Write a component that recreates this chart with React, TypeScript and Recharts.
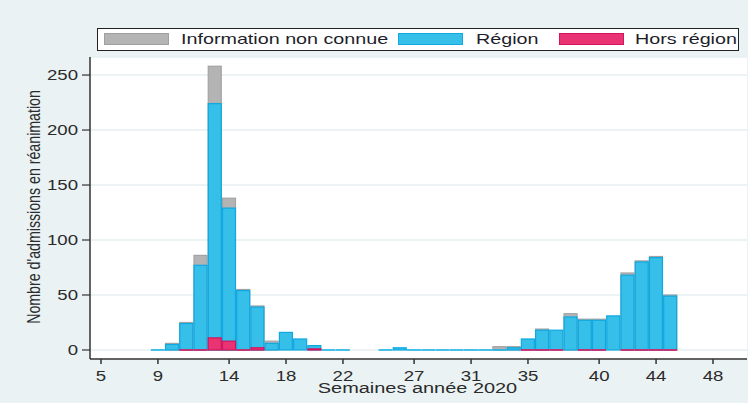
import React from 'react';
import { ComposedChart, Bar, XAxis, YAxis, CartesianGrid, Label } from 'recharts';

// Weeks of 2020
const weeks = [9, 10, 11, 12, 13, 14, 15, 16, 17, 18, 19, 20, 21, 22, 23, 24, 25, 26, 27, 28, 29, 30, 31, 32, 33, 34, 35, 36, 37, 38, 39, 40, 41, 42, 43, 44, 45];
// Hors région (null = not drawn)
const horsRegion: (number | null)[] = [null, null, 0, 0, 11, 8, 0, 2, null, null, null, 1, null, null, null, null, null, null, null, null, null, null, null, null, null, null, 0, 0, 0, null, 0, 0, null, 0, 0, 0, 0];
// Région
const region: (number | null)[] = [0, 5, 24, 77, 213, 121, 54, 37, 6, 16, 10, 3, 0, 0, null, null, 0, 2, 0, 0, 0, 0, 0, 0, 0, 2, 10, 18, 18, 30, 27, 27, 31, 68, 80, 84, 49];
// Information non connue
const infoNonConnue: (number | null)[] = [null, 1, 1, 9, 34, 9, 1, 1, 2, null, null, null, null, null, null, null, null, null, null, null, null, null, null, null, 3, 1, null, 1, null, 3, 1, 1, null, 2, 1, 1, 1];

const xTicks = [5, 9, 14, 18, 22, 27, 31, 35, 40, 44, 48];
const yTicks = [0, 50, 100, 150, 200, 250];

const legendItems = [
  { label: 'Information non connue', fill: '#b4b4b4', stroke: '#a0a0a0' },
  { label: 'Région', fill: '#35bfe9', stroke: '#13aae2' },
  { label: 'Hors région', fill: '#ea3372', stroke: '#d4145c' },
];

// Overlaid bars (as drawn by the original): total, région + hors, hors
const data = weeks.map((w, i) => {
  const h = horsRegion[i];
  const r = region[i];
  const u = infoNonConnue[i];
  const blue = r == null ? null : (h ?? 0) + r;
  const grey = u == null ? null : (h ?? 0) + (r ?? 0) + u;
  return { week: w, hors: h, blue, grey };
});

const X_DOMAIN: [number, number] = [4.227, 50.389];
const Y_DOMAIN: [number, number] = [-8.2, 266.4];
const SX = 1.33;
const FONT = '"Liberation Sans", Arial, sans-serif';

const makeShape = (key: string, fill: string, stroke: string, zeroStroke: string) => (props: any) => {
  const { x, y, width, height, payload } = props;
  const v = payload ? payload[key] : null;
  if (v == null || !isFinite(x) || !isFinite(y)) return <g />;
  if (v === 0 || !height || Math.abs(height) < 0.5) {
    return <line x1={x} x2={x + width} y1={y} y2={y} stroke={zeroStroke} strokeWidth={1.6} />;
  }
  return <rect x={x + 0.5} y={y} width={width - 1} height={height} fill={fill} stroke={stroke} strokeWidth={1.2} />;
};

const YTick = (props: any) => {
  const { x, y, payload } = props;
  return (
    <g transform={`translate(${x - 2},${y})`}>
      <text transform={`scale(${SX},1)`} textAnchor="end" dy="0.36em" fontSize={14} fontFamily={FONT} fill="#2b2b2b">
        {payload.value}
      </text>
    </g>
  );
};

const XTick = (props: any) => {
  const { x, y, payload } = props;
  return (
    <g transform={`translate(${x},${y})`}>
      <text transform={`scale(${SX},1)`} textAnchor="middle" dy={15} fontSize={14} fontFamily={FONT} fill="#2b2b2b">
        {payload.value}
      </text>
    </g>
  );
};

const XTitle = (props: any) => {
  const vb = props.viewBox || {};
  const cx = vb.x + vb.width / 2 - 1;
  const cy = vb.y + 34;
  return (
    <g transform={`translate(${cx},${cy})`}>
      <text transform={`scale(${SX},1)`} textAnchor="middle" fontSize={15} fontFamily={FONT} fill="#2b2b2b">
        Semaines année 2020
      </text>
    </g>
  );
};

const YTitle = (props: any) => {
  const vb = props.viewBox || {};
  const cx = vb.x + 3;
  const cy = vb.y + vb.height / 2 - 1;
  return (
    <g transform={`translate(${cx},${cy}) scale(${SX},1) rotate(-90)`}>
      <text textAnchor="middle" dy="0.36em" fontSize={14.2} fontFamily={FONT} fill="#2b2b2b">
        Nombre d'admissions en réanimation
      </text>
    </g>
  );
};

const legendPos = [
  { sw: 7, tx: 84 },
  { sw: 301, tx: 379 },
  { sw: 462, tx: 538 },
];

export default function App() {
  return (
    <div style={{ position: 'absolute', left: 0, top: 0, width: 748, height: 403, background: '#eaf2f3', overflow: 'hidden' }}>
      <ComposedChart
        width={748}
        height={403}
        data={data}
        margin={{ top: 57, right: 1, bottom: 14, left: 30 }}
        barCategoryGap={0}
        barGap={0}
      >
        <CartesianGrid vertical={false} fill="#ffffff" stroke="#e6eff1" strokeWidth={1.5} xAxisId="g" />
        <XAxis xAxisId="b" type="number" dataKey="week" domain={X_DOMAIN} allowDataOverflow hide orientation="top" height={0} />
        <XAxis xAxisId="r" type="number" dataKey="week" domain={X_DOMAIN} allowDataOverflow hide orientation="top" height={0} />
        <XAxis
          xAxisId="g"
          type="number"
          dataKey="week"
          domain={X_DOMAIN}
          allowDataOverflow
          ticks={xTicks}
          interval={0}
          tick={<XTick />}
          tickSize={5}
          axisLine={{ stroke: '#333', strokeWidth: 1.5 }}
          tickLine={{ stroke: '#333', strokeWidth: 1.5 }}
          height={30}
        >
          <Label content={<XTitle />} />
        </XAxis>
        <YAxis
          type="number"
          domain={Y_DOMAIN}
          allowDataOverflow
          ticks={yTicks}
          interval={0}
          tick={<YTick />}
          tickSize={8}
          width={60}
          axisLine={{ stroke: '#333', strokeWidth: 1.5 }}
          tickLine={{ stroke: '#333', strokeWidth: 1.2 }}
        >
          <Label content={<YTitle />} />
        </YAxis>
        <Bar xAxisId="g" dataKey="grey" isAnimationActive={false} shape={makeShape('grey', '#b4b4b4', '#a3a3a3', '#a3a3a3')} />
        <Bar xAxisId="b" dataKey="blue" isAnimationActive={false} shape={makeShape('blue', '#35bfe9', '#0fa8e0', '#1ab4e8')} />
        <Bar xAxisId="r" dataKey="hors" isAnimationActive={false} shape={makeShape('hors', '#ea3372', '#d4145c', '#e0185e')} />
      </ComposedChart>
      <div
        style={{
          position: 'absolute',
          left: 97,
          top: 28,
          width: 642,
          height: 23,
          border: '1.5px solid #222',
          background: '#ffffff',
          boxSizing: 'border-box',
        }}
      >
        {legendItems.map((it, i) => (
          <React.Fragment key={it.label}>
            <div
              style={{
                position: 'absolute',
                left: legendPos[i].sw - 1,
                top: 4,
                width: 65,
                height: 12,
                background: it.fill,
                border: `1px solid ${it.stroke}`,
                boxSizing: 'border-box',
              }}
            />
            <div
              style={{
                position: 'absolute',
                left: legendPos[i].tx - 1,
                top: 0,
                height: 20,
                lineHeight: '20px',
                fontSize: 14.5,
                fontFamily: FONT,
                color: '#1e1e2a',
                whiteSpace: 'nowrap',
                transform: `scaleX(1.36)`,
                transformOrigin: 'left center',
              }}
            >
              {it.label}
            </div>
          </React.Fragment>
        ))}
      </div>
    </div>
  );
}
